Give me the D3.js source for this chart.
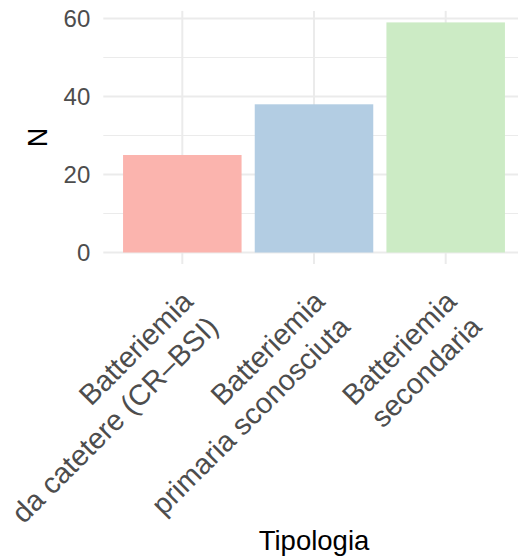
<!DOCTYPE html>
<html>
<head>
<meta charset="utf-8">
<script src="https://cdn.jsdelivr.net/npm/d3@7"></script>
<style>
  body { margin: 0; background: #fff; }
  text { font-family: "Liberation Sans", Arial, sans-serif; }
</style>
</head>
<body>
<svg id="chart" width="518" height="558"></svg>
<script>
const categories = [
  ["Batteriemia", "da catetere (CR\u2013BSI)"],
  ["Batteriemia", "primaria sconosciuta"],
  ["Batteriemia", "secondaria"]
];
const values = [25, 38, 59];
const colors = ["#FBB4AE", "#B3CDE3", "#CCEBC5"];
const yTicks = [0, 20, 40, 60];
const yMinor = [10, 30, 50];
const xTitle = "Tipologia";
const yTitle = "N";

const svg = d3.select("#chart");
const panel = { left: 103.3, right: 524.7, top: 10.9, bottom: 264 };
const keys = categories.map((c, i) => i);

const x = d3.scaleBand().domain(keys).range([panel.left, panel.right])
  .paddingInner(0.1).paddingOuter(0.15);
const yMax = d3.max(values);
const y = d3.scaleLinear().domain([-0.05 * yMax, yMax * 1.05]).range([panel.bottom, panel.top]);

const grid = svg.append("g");
grid.selectAll(".minor").data(yMinor).join("line")
  .attr("x1", panel.left).attr("x2", panel.right)
  .attr("y1", d => y(d)).attr("y2", d => y(d))
  .attr("stroke", "#EBEBEB").attr("stroke-width", 1);
grid.selectAll(".major").data(yTicks).join("line")
  .attr("x1", panel.left).attr("x2", panel.right)
  .attr("y1", d => y(d)).attr("y2", d => y(d))
  .attr("stroke", "#EBEBEB").attr("stroke-width", 2);
grid.selectAll(".vmajor").data(keys).join("line")
  .attr("x1", d => x(d) + x.bandwidth() / 2).attr("x2", d => x(d) + x.bandwidth() / 2)
  .attr("y1", panel.top).attr("y2", panel.bottom)
  .attr("stroke", "#EBEBEB").attr("stroke-width", 2);

svg.append("g").selectAll("rect").data(values).join("rect")
  .attr("x", (d, i) => x(i))
  .attr("width", x.bandwidth())
  .attr("y", d => y(d))
  .attr("height", d => y(0) - y(d))
  .attr("fill", (d, i) => colors[i]);

// y axis labels
const yAxis = d3.axisLeft(y).tickValues(yTicks).tickSize(0).tickPadding(13);
const ya = svg.append("g").attr("transform", `translate(${panel.left},0)`).call(yAxis);
ya.select(".domain").remove();
ya.selectAll("text").attr("font-size", 24).attr("fill", "#4D4D4D")
  .attr("font-family", "Liberation Sans, Arial, sans-serif");

// x axis labels rotated
const xl = svg.append("g");
keys.forEach(k => {
  const cx = x(k) + x.bandwidth() / 2;
  const g = xl.append("g").attr("transform", `translate(${cx - 3},${288}) rotate(-45)`);
  const t = g.append("text").attr("text-anchor", "end").attr("font-size", 29).attr("fill", "#4D4D4D");
  categories[k].forEach((line, li) => {
    t.append("tspan").attr("x", 0).attr("dy", li === 0 ? "0.75em" : "1.23em").text(line);
  });
});

svg.append("text").attr("x", (panel.left + panel.right) / 2).attr("y", 550)
  .attr("text-anchor", "middle").attr("font-size", 27.5).attr("fill", "#000").text(xTitle);

svg.append("text").attr("transform", `translate(47,${(panel.top + panel.bottom) / 2}) rotate(-90)`)
  .attr("text-anchor", "middle").attr("font-size", 27).attr("fill", "#000").text(yTitle);
</script>
</body>
</html>
